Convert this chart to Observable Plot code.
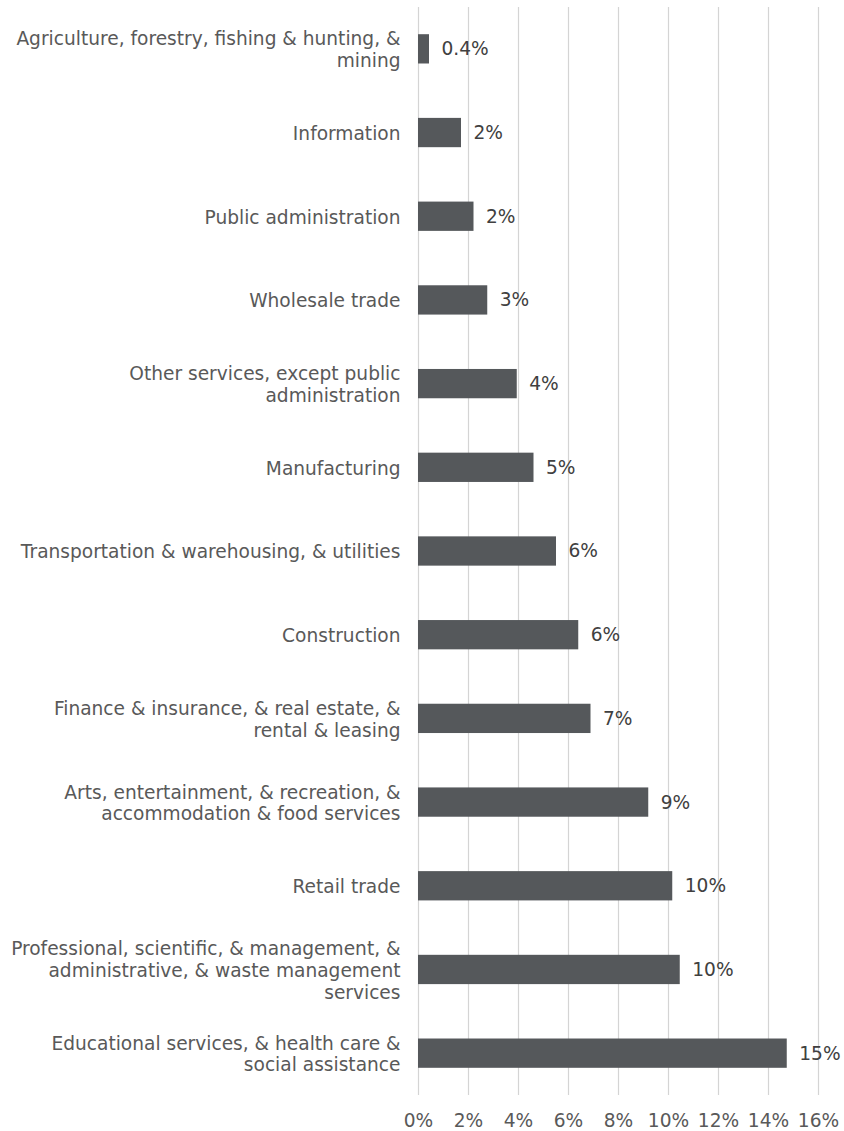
<!DOCTYPE html>
<html>
<head>
<meta charset="utf-8">
<script src="https://cdn.jsdelivr.net/npm/d3@7"></script>
<script src="https://cdn.jsdelivr.net/npm/@observablehq/plot@0.6"></script>
<style>
  html, body { margin: 0; padding: 0; background: #ffffff; }
</style>
</head>
<body>
<div id="chart"></div>
<script>
const categories = [
  "Agriculture, forestry, fishing & hunting, &\nmining",
  "Information",
  "Public administration",
  "Wholesale trade",
  "Other services, except public\nadministration",
  "Manufacturing",
  "Transportation & warehousing, & utilities",
  "Construction",
  "Finance & insurance, & real estate, &\nrental & leasing",
  "Arts, entertainment, & recreation, &\naccommodation & food services",
  "Retail trade",
  "Professional, scientific, & management, &\nadministrative, & waste management\nservices",
  "Educational services, & health care &\nsocial assistance"
];
const values = [0.44, 1.72, 2.22, 2.77, 3.95, 4.62, 5.52, 6.41, 6.9, 9.21, 10.17, 10.47, 14.75];
const valueLabels = ["0.4%", "2%", "2%", "3%", "4%", "5%", "6%", "6%", "7%", "9%", "10%", "10%", "15%"];
const xTicks = [0, 2, 4, 6, 8, 10, 12, 14, 16];

const data = categories.map((c, i) => ({category: c, value: values[i], label: valueLabels[i]}));

const FS = 18.6;

const chart = Plot.plot({
  width: 844,
  height: 1131,
  marginTop: 7,
  marginBottom: 36,
  marginLeft: 418,
  marginRight: 26,
  style: {fontFamily: "'DejaVu Sans', Verdana, sans-serif", fontSize: FS + "px", background: "#ffffff", color: "#595959"},
  x: {domain: [0, 16], ticks: xTicks, tickFormat: d => d + "%"},
  y: {domain: categories, paddingInner: 0.65, paddingOuter: 0.325, round: false},
  marks: [
    Plot.gridX(xTicks, {stroke: "#d4d4d4", strokeOpacity: 1, strokeWidth: 1.2}),
    Plot.barX(data, {x: "value", y: "category", fill: "#55585b"}),
    Plot.text(data, {x: "value", y: "category", text: "label", dx: 12, textAnchor: "start", fill: "#404040", fontSize: FS}),
    Plot.axisX({ticks: xTicks, tickSize: 0, tickPadding: 18, label: null, fill: "#595959", fontSize: FS, tickFormat: d => d + "%"}),
    Plot.axisY({tickSize: 0, tickPadding: 18, label: null, fill: "#595959", fontSize: FS, lineHeight: 1.17})
  ]
});
document.getElementById("chart").appendChild(chart);
</script>
</body>
</html>
